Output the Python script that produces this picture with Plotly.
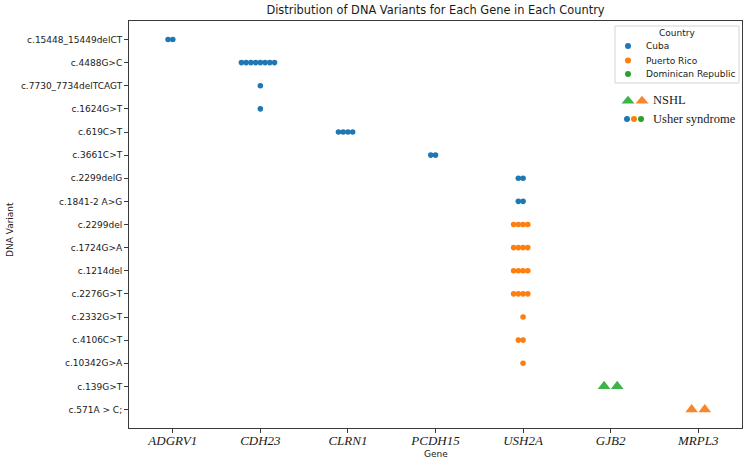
import plotly.graph_objects as go

# ---------------- data ----------------
genes = ["ADGRV1", "CDH23", "CLRN1", "PCDH15", "USH2A", "GJB2", "MRPL3"]
variants = ["c.15448_15449delCT", "c.4488G>C", "c.7730_7734delTCAGT", "c.1624G>T",
            "c.619C>T", "c.3661C>T", "c.2299delG", "c.1841-2 A>G", "c.2299del",
            "c.1724G>A", "c.1214del", "c.2276G>T", "c.2332G>T", "c.4106C>T",
            "c.10342G>A", "c.139G>T", "c.571A > C;"]
variant_gene = ["ADGRV1", "CDH23", "CDH23", "CDH23", "CLRN1", "PCDH15", "USH2A", "USH2A",
                "USH2A", "USH2A", "USH2A", "USH2A", "USH2A", "USH2A", "USH2A", "GJB2", "MRPL3"]
variant_country = ["Cuba"] * 8 + ["Puerto Rico"] * 7 + ["Dominican Republic", "Puerto Rico"]
variant_count = [2, 8, 1, 1, 4, 2, 2, 2, 4, 4, 4, 4, 1, 2, 1, 2, 2]
variant_condition = ["Usher syndrome"] * 15 + ["NSHL"] * 2
countries = ["Cuba", "Puerto Rico", "Dominican Republic"]

# ---------------- styles ----------------
dot_colors = {"Cuba": "#1f77b4", "Puerto Rico": "#ff7f0e", "Dominican Republic": "#2ca02c"}
tri_colors = {"Cuba": "#1f77b4", "Puerto Rico": "#f7862c", "Dominican Republic": "#3cb44a"}
DOT_STEP = 0.054   # swarm spacing in category units
TRI_STEP = 0.15
TXT = "#1a1a1a"
AX = "#3a3a3a"

W, H = 750, 466
L, R, T, B = 129, 8, 21, 38
PW, PH = W - L - R, H - T - B


def px2x(px):
    return (px - L) / PW


def py2y(py):
    return (H - B - py) / PH


def swarm_offsets(n):
    seq = [0]
    k = 1
    while len(seq) < n:
        seq.append(-k)
        if len(seq) < n:
            seq.append(k)
        k += 1
    return seq


fig = go.Figure()

for cond in ["Usher syndrome", "NSHL"]:
    for c in countries:
        xs, ys = [], []
        for v, g, cc, n, cd in zip(variants, variant_gene, variant_country, variant_count, variant_condition):
            if cc != c or cd != cond:
                continue
            gi = genes.index(g)
            if cond == "NSHL":
                offs = [(i - (n - 1) / 2) * TRI_STEP for i in range(n)]
            else:
                offs = [o * DOT_STEP for o in swarm_offsets(n)]
            for o in offs:
                xs.append(gi + o)
                ys.append(v)
        if not xs:
            continue
        if cond == "NSHL":
            marker = dict(symbol="triangle-up", size=11, color=tri_colors[c], line=dict(width=0))
        else:
            marker = dict(symbol="circle", size=5.6, color=dot_colors[c], line=dict(width=0))
        fig.add_trace(go.Scatter(x=xs, y=ys, mode="markers", marker=marker,
                                 name=f"{c} ({cond})", showlegend=False))

# ---------------- manual legend ----------------
shapes = []
annotations = []
shapes.append(dict(type="rect", xref="paper", yref="paper",
                   x0=px2x(615), x1=px2x(739), y0=py2y(83), y1=py2y(26),
                   line=dict(color="#d4d4d4", width=1), fillcolor="white", layer="above"))
annotations.append(dict(text="Country", xref="paper", yref="paper", x=px2x(677), y=py2y(33),
                        xanchor="center", yanchor="middle", showarrow=False,
                        font=dict(family="DejaVu Sans", size=9, color=TXT)))
for c, py in zip(countries, [46, 60.5, 74]):
    shapes.append(dict(type="circle", xref="paper", yref="paper", xsizemode="pixel", ysizemode="pixel",
                       xanchor=px2x(628), yanchor=py2y(py), x0=-3, x1=3, y0=-3, y1=3,
                       fillcolor=dot_colors[c], line=dict(width=0), layer="above"))
    annotations.append(dict(text=c, xref="paper", yref="paper", x=px2x(644), y=py2y(py),
                            xanchor="left", yanchor="middle", showarrow=False,
                            font=dict(family="DejaVu Sans", size=9, color=TXT)))

tri_path = "M -6.5,-3.6 L 6.5,-3.6 L 0,4.2 Z"
for c, px in zip(["Dominican Republic", "Puerto Rico"], [628, 642]):
    shapes.append(dict(type="path", xref="paper", yref="paper", xsizemode="pixel", ysizemode="pixel",
                       xanchor=px2x(px), yanchor=py2y(100), path=tri_path,
                       fillcolor=tri_colors[c], line=dict(width=0), layer="above"))
annotations.append(dict(text="NSHL", xref="paper", yref="paper", x=px2x(651), y=py2y(100),
                        xanchor="left", yanchor="middle", showarrow=False,
                        font=dict(family="Liberation Serif", size=12.5, color=TXT)))
for c, px in zip(countries, [627, 634, 641]):
    shapes.append(dict(type="circle", xref="paper", yref="paper", xsizemode="pixel", ysizemode="pixel",
                       xanchor=px2x(px), yanchor=py2y(119), x0=-3, x1=3, y0=-3, y1=3,
                       fillcolor=dot_colors[c], line=dict(width=0), layer="above"))
annotations.append(dict(text="Usher syndrome", xref="paper", yref="paper", x=px2x(651), y=py2y(119),
                        xanchor="left", yanchor="middle", showarrow=False,
                        font=dict(family="Liberation Serif", size=12.5, color=TXT)))

# axis titles
annotations.append(dict(text="Gene", xref="paper", yref="paper", x=0.5, y=py2y(454),
                        xanchor="center", yanchor="middle", showarrow=False,
                        font=dict(family="DejaVu Sans", size=9, color=TXT)))
annotations.append(dict(text="DNA Variant", xref="paper", yref="paper", x=px2x(10), y=py2y(230),
                        xanchor="center", yanchor="middle", showarrow=False, textangle=-90,
                        font=dict(family="DejaVu Sans", size=9, color=TXT)))

fig.update_layout(
    width=W, height=H,
    margin=dict(l=L, r=R, t=T, b=B, autoexpand=False),
    paper_bgcolor="white", plot_bgcolor="white",
    title=dict(text="Distribution of DNA Variants for Each Gene in Each Country",
               x=0.5, xref="paper", xanchor="center", y=1 - 10 / H, yref="container", yanchor="middle",
               font=dict(family="DejaVu Sans", size=11.4, color=TXT)),
    shapes=shapes, annotations=annotations,
    showlegend=False,
)
fig.update_xaxes(
    range=[-0.5, len(genes) - 0.5], tickmode="array", tickvals=list(range(len(genes))), ticktext=genes,
    ticks="outside", ticklen=4, tickcolor=AX, tickwidth=1, ticklabelstandoff=-4,
    tickfont=dict(family="Liberation Serif", size=13, style="italic", color=TXT),
    showline=True, linecolor=AX, linewidth=1, mirror=True, showgrid=False, zeroline=False,
    automargin=False,
)
fig.update_yaxes(
    type="category", categoryorder="array", categoryarray=variants,
    range=[len(variants) - 1 + 0.8, -0.8],
    ticks="outside", ticklen=4, tickcolor=AX, tickwidth=1,
    tickfont=dict(family="DejaVu Sans", size=9, color=TXT),
    showline=True, linecolor=AX, linewidth=1, mirror=True, showgrid=False, zeroline=False,
    automargin=False,
)

fig.write_html("out.html", config={"displayModeBar": False},
               post_script="document.body.style.margin='0';document.body.style.padding='0';")
